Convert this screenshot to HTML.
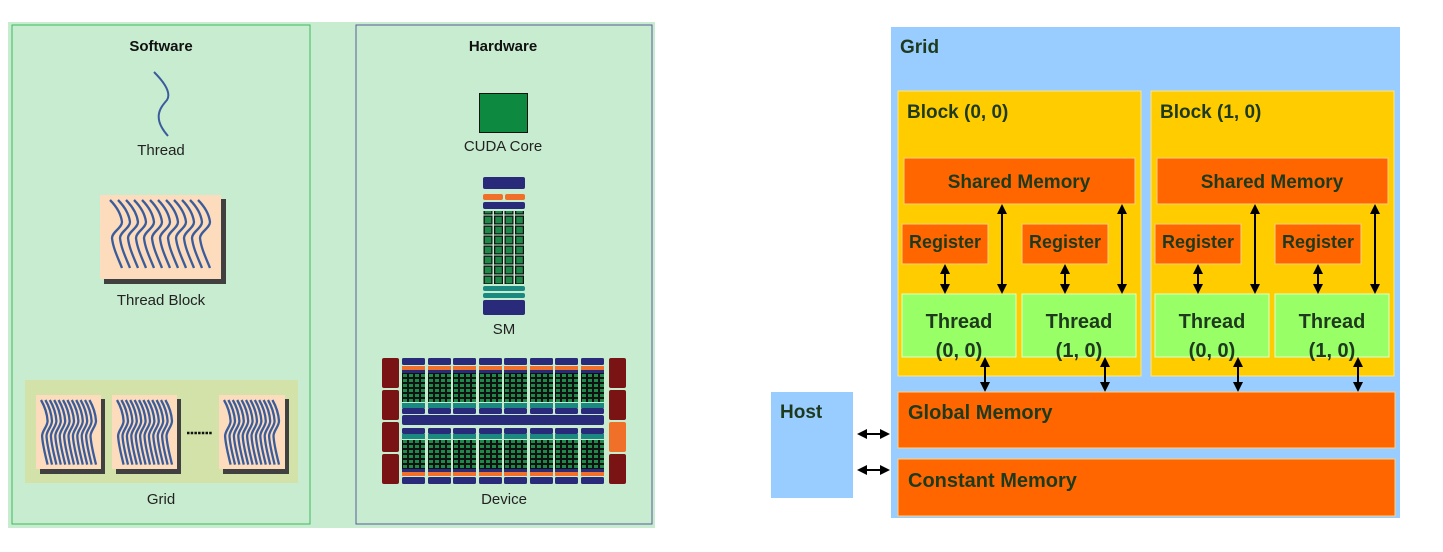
<!DOCTYPE html>
<html><head><meta charset="utf-8"><style>
html,body{margin:0;padding:0;background:#fff;width:1443px;height:552px;overflow:hidden}
svg{display:block}
.t{font-family:"Liberation Sans",sans-serif}
.b{font-family:"Liberation Sans",sans-serif;font-weight:bold;fill:#1e3a1e}
</style></head><body>
<svg width="1443" height="552" viewBox="0 0 1443 552" xmlns="http://www.w3.org/2000/svg">
<defs>
<path id="w" d="M0 0 C6 6 11 14 12 22 C12 28 2 32 2 38 C3 48 8 58 12 68" fill="none" stroke="#3b5c9c" stroke-width="2.3" vector-effect="non-scaling-stroke"/>
<g id="blk">
 <use href="#w"/><use href="#w" x="8"/><use href="#w" x="16"/><use href="#w" x="24"/><use href="#w" x="32"/><use href="#w" x="40"/><use href="#w" x="48"/><use href="#w" x="56"/><use href="#w" x="64"/><use href="#w" x="72"/><use href="#w" x="80"/><use href="#w" x="88"/>
</g>
<pattern id="cells" x="0" y="0" width="6" height="5" patternUnits="userSpaceOnUse">
 <rect width="6" height="5" fill="#111"/><rect x="1" y="1" width="4" height="3" fill="#1e8a4a"/>
</pattern>
<pattern id="smcells" x="483" y="205" width="10.5" height="10" patternUnits="userSpaceOnUse">
 <rect width="10.5" height="10" fill="#c8ecd0"/><rect x="0.5" y="0.5" width="9" height="9" fill="#111"/><rect x="1.8" y="1.8" width="6.5" height="6.5" fill="#1e8a4a"/>
</pattern>
<g id="col">
 <rect x="0" y="0" width="23" height="7" rx="1.5" fill="#2a2a7a"/>
 <rect x="0" y="8" width="23" height="4" fill="#f0702a"/>
 <rect x="0" y="12" width="23" height="3" fill="#2a2a7a"/>
 <rect x="0" y="15" width="23" height="29" fill="url(#cells)"/>
 <rect x="0" y="45" width="23" height="3" fill="#1a8a80"/>
 <rect x="0" y="48" width="23" height="2" fill="#1a8a80"/>
 <rect x="0" y="50" width="23" height="6" rx="1.5" fill="#2a2a7a"/>
</g>
<marker id="ah" viewBox="0 0 10 10" refX="8" refY="5" markerWidth="5" markerHeight="5" orient="auto-start-reverse"><path d="M0 0L10 5L0 10z" fill="#000"/></marker>
</defs>

<!-- LEFT -->
<rect x="8" y="22" width="647" height="506" fill="#c8ecd0"/>
<rect x="12" y="25" width="298" height="499" fill="none" stroke="#3cbc5c" stroke-width="1"/>
<rect x="356" y="25" width="296" height="499" fill="none" stroke="#5a5a9a" stroke-width="1"/>
<text x="161" y="51" text-anchor="middle" class="t" font-weight="bold" font-size="15" fill="#111">Software</text>
<text x="503" y="51" text-anchor="middle" class="t" font-weight="bold" font-size="15" fill="#111">Hardware</text>

<path d="M154 72 C162 80 172 92 167 100 C160 108 152 118 168 136" fill="none" stroke="#3b5c9c" stroke-width="2"/>
<text x="161" y="155" text-anchor="middle" class="t" font-size="15" fill="#222">Thread</text>

<rect x="104" y="199" width="122" height="85" fill="#404040"/>
<rect x="100" y="195" width="121" height="84" fill="#fcdcbc"/>
<use href="#blk" x="110" y="200"/>
<text x="161" y="305" text-anchor="middle" class="t" font-size="15" fill="#222">Thread Block</text>

<rect x="25" y="380" width="273" height="103" fill="#d2e2a8"/>
<rect x="40" y="399" width="65" height="75" fill="#404040"/>
<rect x="36" y="395" width="65" height="74" fill="#fcdcbc"/>
<rect x="116" y="399" width="65" height="75" fill="#404040"/>
<rect x="112" y="395" width="65" height="74" fill="#fcdcbc"/>
<rect x="223" y="399" width="66" height="75" fill="#404040"/>
<rect x="219" y="395" width="66" height="74" fill="#fcdcbc"/>
<g transform="translate(41,400) scale(0.55,0.95)"><use href="#blk"/></g>
<g transform="translate(117,400) scale(0.55,0.95)"><use href="#blk"/></g>
<g transform="translate(224,400) scale(0.55,0.95)"><use href="#blk"/></g>
<line x1="187" y1="433" x2="212" y2="433" stroke="#111" stroke-width="2.5" stroke-dasharray="2.5 1.2"/>
<text x="161" y="504" text-anchor="middle" class="t" font-size="15" fill="#222">Grid</text>

<!-- CUDA core -->
<rect x="479.5" y="93.5" width="48" height="39" fill="#0e8a40" stroke="#111" stroke-width="1"/>
<text x="503" y="151" text-anchor="middle" class="t" font-size="15" fill="#222">CUDA Core</text>

<!-- SM -->
<rect x="483" y="177" width="42" height="12" rx="2" fill="#2a2a7a"/>
<rect x="483" y="194" width="20" height="6" rx="2" fill="#f0702a"/>
<rect x="505" y="194" width="20" height="6" rx="2" fill="#f0702a"/>
<rect x="483" y="202" width="42" height="7" rx="2" fill="#2a2a7a"/>
<rect x="483" y="211" width="42" height="73" fill="url(#smcells)"/>
<rect x="483" y="286" width="42" height="5" rx="2" fill="#1a8a80"/>
<rect x="483" y="293" width="42" height="5" rx="2" fill="#1a8a80"/>
<rect x="483" y="300" width="42" height="15" rx="2" fill="#2a2a7a"/>
<text x="504" y="334" text-anchor="middle" class="t" font-size="15" fill="#222">SM</text>

<!-- Device -->
<g fill="#7a1414">
<rect x="382" y="358" width="17" height="30" rx="2"/><rect x="382" y="390" width="17" height="30" rx="2"/><rect x="382" y="422" width="17" height="30" rx="2"/><rect x="382" y="454" width="17" height="30" rx="2"/>
<rect x="609" y="358" width="17" height="30" rx="2"/><rect x="609" y="390" width="17" height="30" rx="2"/><rect x="609" y="454" width="17" height="30" rx="2"/>
</g>
<rect x="609" y="422" width="17" height="30" rx="2" fill="#f0702a"/>
<g>
<use href="#col" x="402" y="358"/><use href="#col" x="428" y="358"/><use href="#col" x="453" y="358"/><use href="#col" x="479" y="358"/><use href="#col" x="504" y="358"/><use href="#col" x="530" y="358"/><use href="#col" x="555" y="358"/><use href="#col" x="581" y="358"/>
</g>
<rect x="402" y="415" width="202" height="10" rx="2" fill="#2a2a7a"/>
<g transform="translate(0,911) scale(1,-1)">
<use href="#col" x="402" y="427"/><use href="#col" x="428" y="427"/><use href="#col" x="453" y="427"/><use href="#col" x="479" y="427"/><use href="#col" x="504" y="427"/><use href="#col" x="530" y="427"/><use href="#col" x="555" y="427"/><use href="#col" x="581" y="427"/>
</g>
<text x="504" y="504" text-anchor="middle" class="t" font-size="15" fill="#222">Device</text>

<!-- RIGHT -->
<rect x="891" y="27" width="509" height="491" fill="#99ccff"/>
<text x="900" y="53" class="b" font-size="19">Grid</text>

<g>
<rect x="898" y="91" width="243" height="285" fill="#ffcc00" stroke="#ffe680" stroke-width="1"/>
<text x="907" y="118" class="b" font-size="19">Block (0, 0)</text>
<rect x="904" y="158" width="231" height="46" fill="#ff6600" stroke="#ffd080" stroke-width="1"/>
<text x="1019" y="188" text-anchor="middle" class="b" font-size="19">Shared Memory</text>
<rect x="902" y="224" width="86" height="40" fill="#ff6600" stroke="#ffd080" stroke-width="1"/>
<text x="945" y="248" text-anchor="middle" class="b" font-size="18">Register</text>
<rect x="1022" y="224" width="86" height="40" fill="#ff6600" stroke="#ffd080" stroke-width="1"/>
<text x="1065" y="248" text-anchor="middle" class="b" font-size="18">Register</text>
<rect x="902" y="294" width="114" height="63" fill="#99ff66" stroke="#ddffcc" stroke-width="1"/>
<text x="959" y="328" text-anchor="middle" class="b" font-size="20">Thread</text>
<text x="959" y="357" text-anchor="middle" class="b" font-size="20">(0, 0)</text>
<rect x="1022" y="294" width="114" height="63" fill="#99ff66" stroke="#ddffcc" stroke-width="1"/>
<text x="1079" y="328" text-anchor="middle" class="b" font-size="20">Thread</text>
<text x="1079" y="357" text-anchor="middle" class="b" font-size="20">(1, 0)</text>
<g stroke="#000" stroke-width="2" marker-start="url(#ah)" marker-end="url(#ah)">
<line x1="945" y1="266" x2="945" y2="292"/>
<line x1="1065" y1="266" x2="1065" y2="292"/>
<line x1="1002" y1="206" x2="1002" y2="292"/>
<line x1="1122" y1="206" x2="1122" y2="292"/>
<line x1="985" y1="359" x2="985" y2="390"/>
<line x1="1105" y1="359" x2="1105" y2="390"/>
</g>
</g>
<g transform="translate(253,0)">
<rect x="898" y="91" width="243" height="285" fill="#ffcc00" stroke="#ffe680" stroke-width="1"/>
<text x="907" y="118" class="b" font-size="19">Block (1, 0)</text>
<rect x="904" y="158" width="231" height="46" fill="#ff6600" stroke="#ffd080" stroke-width="1"/>
<text x="1019" y="188" text-anchor="middle" class="b" font-size="19">Shared Memory</text>
<rect x="902" y="224" width="86" height="40" fill="#ff6600" stroke="#ffd080" stroke-width="1"/>
<text x="945" y="248" text-anchor="middle" class="b" font-size="18">Register</text>
<rect x="1022" y="224" width="86" height="40" fill="#ff6600" stroke="#ffd080" stroke-width="1"/>
<text x="1065" y="248" text-anchor="middle" class="b" font-size="18">Register</text>
<rect x="902" y="294" width="114" height="63" fill="#99ff66" stroke="#ddffcc" stroke-width="1"/>
<text x="959" y="328" text-anchor="middle" class="b" font-size="20">Thread</text>
<text x="959" y="357" text-anchor="middle" class="b" font-size="20">(0, 0)</text>
<rect x="1022" y="294" width="114" height="63" fill="#99ff66" stroke="#ddffcc" stroke-width="1"/>
<text x="1079" y="328" text-anchor="middle" class="b" font-size="20">Thread</text>
<text x="1079" y="357" text-anchor="middle" class="b" font-size="20">(1, 0)</text>
<g stroke="#000" stroke-width="2" marker-start="url(#ah)" marker-end="url(#ah)">
<line x1="945" y1="266" x2="945" y2="292"/>
<line x1="1065" y1="266" x2="1065" y2="292"/>
<line x1="1002" y1="206" x2="1002" y2="292"/>
<line x1="1122" y1="206" x2="1122" y2="292"/>
<line x1="985" y1="359" x2="985" y2="390"/>
<line x1="1105" y1="359" x2="1105" y2="390"/>
</g>
</g>

<rect x="898" y="392" width="497" height="56" fill="#ff6600" stroke="#ffd080" stroke-width="1"/>
<text x="908" y="419" class="b" font-size="20">Global Memory</text>
<rect x="898" y="459" width="497" height="57" fill="#ff6600" stroke="#ffd080" stroke-width="1"/>
<text x="908" y="487" class="b" font-size="20">Constant Memory</text>

<rect x="771" y="392" width="82" height="106" fill="#99ccff"/>
<text x="780" y="418" class="b" font-size="19">Host</text>
<g stroke="#000" stroke-width="2" marker-start="url(#ah)" marker-end="url(#ah)">
<line x1="859" y1="434" x2="888" y2="434"/>
<line x1="859" y1="470" x2="888" y2="470"/>
</g>
</svg>
</body></html>
